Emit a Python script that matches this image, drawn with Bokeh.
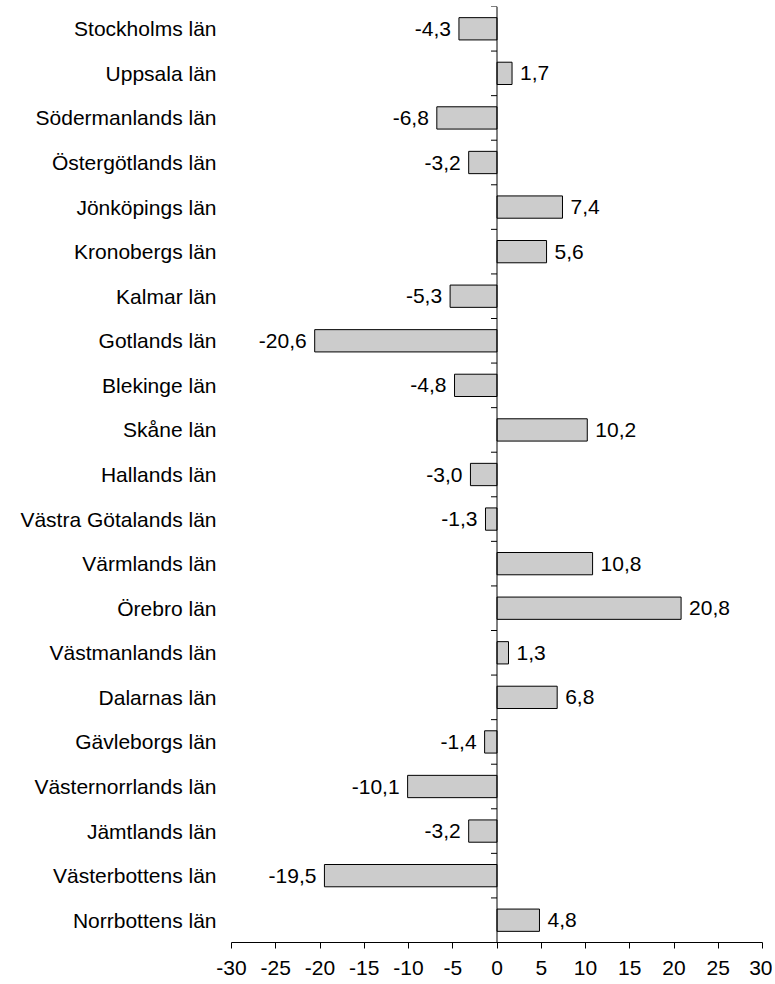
from bokeh.plotting import figure
from bokeh.models import ColumnDataSource, Range1d, FixedTicker, Span
from bokeh.core.properties import value
from bokeh.embed import file_html
from bokeh.resources import INLINE

# ---- data ----
counties = [
    "Stockholms län", "Uppsala län", "Södermanlands län", "Östergötlands län",
    "Jönköpings län", "Kronobergs län", "Kalmar län", "Gotlands län",
    "Blekinge län", "Skåne län", "Hallands län", "Västra Götalands län",
    "Värmlands län", "Örebro län", "Västmanlands län", "Dalarnas län",
    "Gävleborgs län", "Västernorrlands län", "Jämtlands län",
    "Västerbottens län", "Norrbottens län",
]
values = [-4.3, 1.7, -6.8, -3.2, 7.4, 5.6, -5.3, -20.6, -4.8, 10.2, -3.0,
          -1.3, 10.8, 20.8, 1.3, 6.8, -1.4, -10.1, -3.2, -19.5, 4.8]
x_ticks = [-30, -25, -20, -15, -10, -5, 0, 5, 10, 15, 20, 25, 30]

FONT = "Liberation Sans"
FS = "21px"
n = len(counties)
ypos = [i + 0.5 for i in range(n)]
labels = [f"{v:.1f}".replace(".", ",") for v in values]

W, H = 772, 982
p = figure(width=W, height=H, x_range=Range1d(x_ticks[0], x_ticks[-1]),
           y_range=Range1d(n, 0), output_backend="svg", toolbar_location=None,
           min_border_left=231, min_border_right=10, min_border_top=6,
           min_border_bottom=40)
p.xgrid.visible = False
p.ygrid.visible = False
p.outline_line_color = None
p.background_fill_color = "white"
p.border_fill_color = "white"

src = ColumnDataSource(dict(
    y=ypos, v=values, lab=labels,
    xo=[8 if v >= 0 else -8 for v in values],
    al=["left" if v >= 0 else "right" for v in values],
))

p.hbar(y="y", left=0, right="v", height=0.5, source=src,
       fill_color="#cccccc", line_color="black", line_width=1)

p.text(x="v", y="y", text="lab", x_offset="xo", text_align="al",
       text_baseline="middle", text_font=value(FONT), text_font_size=value(FS),
       text_color="black", source=src)

# zero line with category ticks
p.add_layout(Span(location=0, dimension="height", line_color="black", line_width=1))
tick_len = 6 * (x_ticks[-1] - x_ticks[0]) / 531
bounds = list(range(n + 1))
p.segment(x0=[-tick_len] * len(bounds), x1=[0] * len(bounds), y0=bounds, y1=bounds,
          line_color="black", line_width=1)

# x axis
p.xaxis.ticker = FixedTicker(ticks=x_ticks)
p.xaxis.major_label_overrides = {t: str(t) for t in x_ticks}
p.xaxis.minor_tick_line_color = None
p.xaxis.major_tick_out = 6
p.xaxis.major_tick_in = 0
p.xaxis.axis_line_color = "black"
p.xaxis.major_tick_line_color = "black"
p.xaxis.major_label_text_font = FONT
p.xaxis.major_label_text_font_size = FS
p.xaxis.major_label_text_color = "black"
p.xaxis.major_label_standoff = 12

# y axis (labels only)
p.yaxis.ticker = FixedTicker(ticks=ypos)
p.yaxis.major_label_overrides = {y: c for y, c in zip(ypos, counties)}
p.yaxis.axis_line_color = None
p.yaxis.major_tick_line_color = None
p.yaxis.minor_tick_line_color = None
p.yaxis.major_tick_out = 0
p.yaxis.major_tick_in = 0
p.yaxis.major_label_standoff = 15
p.yaxis.major_label_text_font = FONT
p.yaxis.major_label_text_font_size = FS
p.yaxis.major_label_text_color = "black"

open("out.html", "w").write(file_html(p, INLINE))
